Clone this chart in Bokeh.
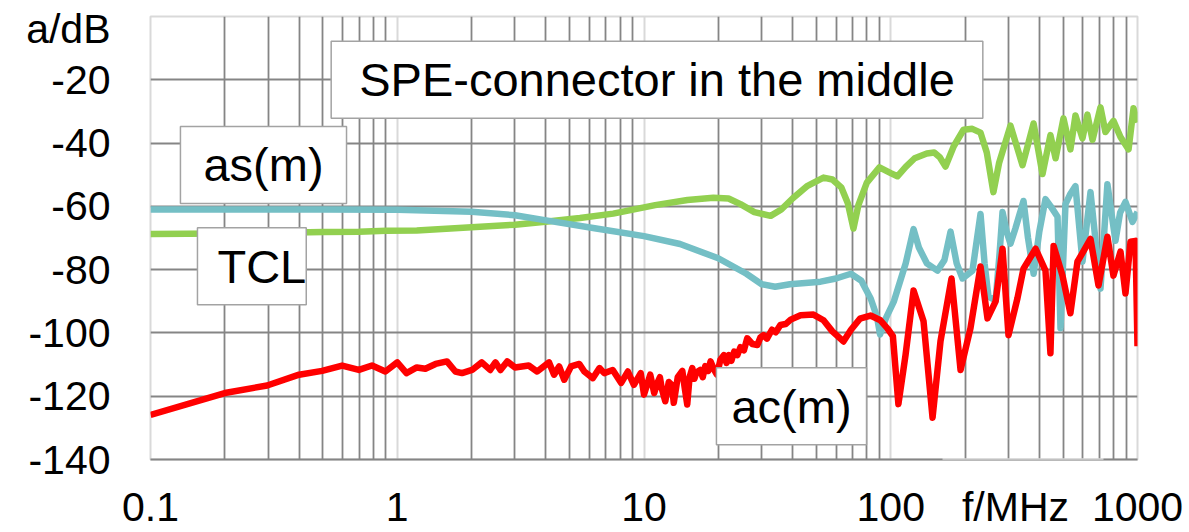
from bokeh.plotting import figure
from bokeh.models import FixedTicker, Label, BoxAnnotation
from bokeh.embed import file_html
from bokeh.resources import INLINE

# ---------------- data ----------------
x_ticks = [0.1, 1, 10, 100, 1000]
x_labels = ["0.1", "1", "10", "100", "1000"]
y_ticks = [-140, -120, -100, -80, -60, -40, -20]
y_labels = ["-140", "-120", "-100", "-80", "-60", "-40", "-20"]
x_title = "f/MHz"
y_title = "a/dB"

green_f = [0.1, 0.2, 0.3, 0.5, 0.7, 0.9, 1.2, 2.0, 3.0, 4.07, 5.5, 7.5, 11.1, 15.0, 19.1,
           22.0, 24.6, 28.0, 32.6, 36.0, 40.0, 46.0, 53.4, 58.0, 63.0, 67.0, 70.6, 74.0,
           80.0, 90.0, 100.0, 106.4, 115.0, 125.0, 140.0, 150.0, 158.0, 166.7, 180.0,
           197.2, 214.0, 231.1, 245.0, 260.6, 275.0, 305.6, 342.0, 379.3, 412.1, 443.8,
           465.6, 501.2, 534.6, 560.5, 598.4, 626.6, 657.1, 708.0, 741.3, 799.0, 853.2,
           920.0, 963.5, 1000.0]
green_db = [-68.7, -68.6, -68.4, -68.1, -68.0, -67.7, -67.6, -66.6, -65.8, -64.8, -63.7,
            -62.3, -59.6, -58.0, -57.3, -57.5, -59.3, -61.8, -63.0, -61.0, -57.5, -53.5,
            -50.9, -51.5, -54.0, -59.0, -67.0, -59.5, -52.5, -47.7, -49.5, -50.5, -47.5,
            -44.8, -43.3, -43.0, -44.5, -47.4, -41.0, -35.8, -35.5, -36.7, -43.0, -55.5,
            -46.2, -34.5, -47.0, -33.8, -49.8, -37.5, -44.8, -32.2, -42.0, -31.3, -38.5,
            -31.0, -39.0, -28.7, -36.5, -33.0, -38.1, -42.0, -29.0, -33.5]

teal_f = [0.1, 0.5, 1.0, 2.0, 3.0, 4.07, 6.4, 10.0, 14.0, 20.0, 26.0, 30.0, 34.0, 39.0,
          52.0, 60.0, 69.0, 76.0, 83.0, 88.0, 90.5, 96.0, 103.0, 115.0, 123.7, 130.0,
          140.0, 154.6, 165.0, 174.7, 185.0, 195.4, 214.4, 222.0, 231.1, 240.0, 248.9,
          266.1, 276.0, 283.8, 295.0, 305.6, 320.0, 345.1, 360.0, 379.3, 400.0, 423.7,
          445.0, 474.2, 487.5, 510.6, 535.0, 560.5, 598.4, 645.0, 708.0, 755.1, 814.0,
          850.0, 893.8, 954.6, 1000.0]
teal_db = [-61.0, -61.0, -61.1, -61.7, -62.8, -64.5, -67.0, -69.4, -71.9, -76.4, -81.3,
           -84.6, -85.4, -84.6, -83.8, -82.8, -81.3, -83.5, -89.2, -95.0, -100.5, -95.0,
           -90.0, -78.0, -67.2, -73.0, -78.0, -80.3, -77.0, -68.0, -78.0, -82.8, -80.3,
           -72.0, -62.4, -78.0, -88.5, -89.7, -75.0, -61.8, -68.0, -71.8, -67.0, -58.3,
           -70.0, -81.3, -68.0, -57.7, -60.0, -63.3, -98.5, -59.3, -56.0, -53.6, -77.5,
           -55.5, -86.0, -53.0, -70.9, -62.0, -58.6, -64.9, -61.8]

red_f = [0.1, 0.2, 0.297, 0.4, 0.496, 0.598, 0.699, 0.79, 0.895, 1.0, 1.09, 1.2, 1.3,
         1.43, 1.59, 1.72, 1.83, 2.01, 2.2, 2.38, 2.5, 2.62, 2.79, 3.0, 3.41, 3.69, 4.12,
         4.32, 4.53, 4.75, 5.06, 5.47, 5.73, 6.2, 6.6, 6.9, 7.47, 8.08, 8.6, 9.1, 9.7,
         10.0, 10.6, 11.0, 11.3, 11.6, 11.8, 12.2, 12.6, 12.98, 13.2, 13.7, 14.3, 14.6,
         14.97, 15.3, 15.7, 16.0, 16.3, 16.9, 17.3, 17.7, 18.2, 18.6, 19.2, 19.75, 20.4,
         21.1, 21.6, 22.1, 22.6, 23.2, 23.9, 24.6, 25.4, 26.2, 27.5, 28.8, 29.6, 30.5,
         31.5, 33.0, 34.2, 35.7, 37.5, 39.3, 43.1, 48.6, 53.4, 58.0, 64.3, 69.0, 75.0,
         82.8, 90.8, 97.0, 102.0, 107.4, 114.8, 123.7, 135.8, 147.7, 159.1, 176.3, 191.8,
         210.4, 231.1, 246.6, 266.1, 283.8, 300.0, 326.3, 345.1, 386.4, 423.7, 443.8,
         457.1, 496.6, 534.6, 571.0, 645.0, 695.0, 755.1, 799.0, 853.2, 893.8, 937.0,
         981.6, 1000.0]
red_db = [-125.9, -119.0, -116.6, -113.2, -112.0, -110.3, -111.7, -110.3, -112.2, -109.3,
          -112.7, -110.9, -111.3, -109.8, -109.0, -112.2, -112.7, -111.7, -109.3, -111.7,
          -109.3, -111.7, -109.0, -110.9, -110.3, -112.2, -109.3, -113.2, -110.6, -114.8,
          -110.6, -109.8, -112.2, -114.3, -111.1, -112.7, -111.7, -115.8, -112.2, -116.4,
          -112.7, -119.5, -113.2, -119.0, -116.0, -114.0, -117.5, -121.6, -115.5, -116.5,
          -122.1, -114.0, -112.0, -117.0, -122.6, -114.0, -111.1, -114.5, -112.5, -111.7,
          -114.0, -110.5, -112.0, -109.0, -111.5, -113.2, -108.5, -107.0, -109.5, -107.0,
          -108.8, -105.9, -107.0, -104.5, -105.5, -101.7, -103.5, -103.8, -101.5, -100.7,
          -101.8, -99.0, -99.8, -97.5, -97.2, -95.8, -94.4, -94.2, -96.0, -99.5, -102.7,
          -99.0, -95.5, -94.5, -96.0, -98.6, -101.0, -122.5, -107.0, -86.6, -96.3, -126.8,
          -102.6, -82.8, -111.7, -98.5, -79.0, -95.4, -90.0, -73.4, -100.7, -89.0, -79.7,
          -73.4, -80.3, -106.4, -72.5, -81.9, -93.8, -77.5, -70.3, -85.0, -69.6, -81.9,
          -74.3, -87.5, -71.2, -70.9, -104.2]

# ---------------- figure ----------------
FONT = "Liberation Sans"
GRID_DARK = "#858585"
GRID_LIGHT = "#d9d9d9"

# positions (data units) where the axis titles sit along their axes
X_TITLE_POS = 320.3
Y_TITLE_POS = -3.8

p = figure(width=1189, height=532, x_axis_type="log", x_range=(0.1, 1000),
           y_range=(-140, 0), output_backend="svg", toolbar_location=None,
           min_border_left=150, min_border_right=52, min_border_top=16,
           min_border_bottom=70)
p.background_fill_color = "white"
p.border_fill_color = "white"
p.outline_line_color = GRID_LIGHT
p.outline_line_width = 2

minor = [m * 10.0 ** k for k in range(-1, 3) for m in range(2, 10)]
grid_xt = FixedTicker(ticks=x_ticks, minor_ticks=minor)
grid_yt = FixedTicker(ticks=y_ticks)
p.xgrid.ticker = grid_xt
p.ygrid.ticker = grid_yt

p.xaxis.ticker = FixedTicker(ticks=x_ticks + [X_TITLE_POS])
p.yaxis.ticker = FixedTicker(ticks=y_ticks + [Y_TITLE_POS])
xo = {t: s for t, s in zip(x_ticks, x_labels)}
xo[X_TITLE_POS] = x_title
yo = {t: s for t, s in zip(y_ticks, y_labels)}
yo[Y_TITLE_POS] = y_title
p.xaxis.major_label_overrides = xo
p.yaxis.major_label_overrides = yo

p.xgrid.grid_line_color = GRID_LIGHT
p.xgrid.grid_line_width = 2
p.xgrid.minor_grid_line_color = GRID_DARK
p.xgrid.minor_grid_line_width = 1.8
p.ygrid.grid_line_color = GRID_DARK
p.ygrid.grid_line_width = 1.8

for ax in (p.xaxis, p.yaxis):
    ax.major_tick_line_color = None
    ax.minor_tick_line_color = None
    ax.major_tick_out = 0
    ax.major_tick_in = 0
    ax.minor_tick_out = 0
    ax.minor_tick_in = 0
    ax.major_label_text_font = FONT
    ax.major_label_text_font_size = "41px"
    ax.major_label_text_color = "black"
p.xaxis.axis_line_color = GRID_DARK
p.xaxis.axis_line_width = 1.8
p.xaxis.major_label_standoff = 24
p.yaxis.axis_line_color = None
p.yaxis.major_label_standoff = 40

p.line(green_f, green_db, line_color="#92d050", line_width=6.5, line_join="round")
p.line(teal_f, teal_db, line_color="#74bfc5", line_width=6.5, line_join="round")
p.line(red_f, red_db, line_color="#ff0000", line_width=6.5, line_join="round")


def box(text, x, y, align, pad, size="47px", border="#a3a3a3"):
    return Label(x=x, y=y, text=text, text_font=FONT, text_font_size=size,
                 text_color="black", text_align=align, text_baseline="middle",
                 background_fill_color="white", border_line_color=border,
                 border_line_width=1.5, padding=pad)


p.add_layout(box("SPE-connector in the middle", 11.29, -20.0, "center",
                 dict(left=28, right=28, top=12, bottom=12)))
p.add_layout(box("as(m)", 0.287, -46.9, "center",
                 dict(left=23, right=23, top=12, bottom=12)))
p.add_layout(box("TCL", 0.155, -78.95, "left",
                 dict(left=20, right=0, top=12, bottom=12)))
p.add_layout(box("ac(m)", 39.6, -123.2, "center",
                 dict(left=15, right=15, top=12, bottom=12)))

# white patch behind the x-axis title that interrupts the axis line
p.add_layout(BoxAnnotation(left=162.1, right=728.1, bottom=-160, top=-139.7,
                           fill_color="white", fill_alpha=1.0, line_color=None,
                           level="overlay"))

open("out.html", "w").write(file_html(p, INLINE))
